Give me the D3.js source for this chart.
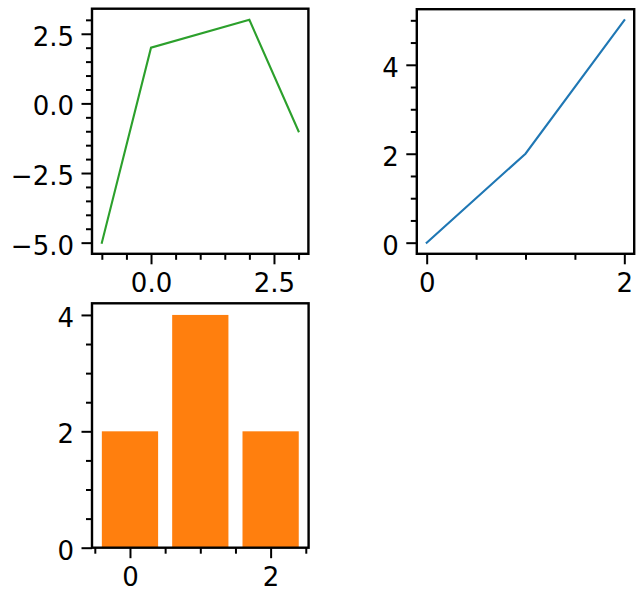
<!DOCTYPE html>
<html>
<head>
<meta charset="utf-8">
<script src="https://cdn.jsdelivr.net/npm/d3@7"></script>
<style>
  html, body { margin: 0; padding: 0; background: #fff; }
  svg { display: block; }
  text { font-family: "DejaVu Sans", sans-serif; }
</style>
</head>
<body>
<svg id="chart" width="644" height="601"></svg>
<script>
// ---- data ----
const greenX = [-1, 0, 2, 3];
const greenY = [-5, 2, 3, -1];
const blueX = [0, 1, 2];
const blueY = [0, 2, 5];
const barCats = [0, 1, 2];
const barVals = [2, 4, 2];

// tick values
const ax1XMajor = [0, 2.5];
const ax1XMinor = [-1, -0.5, 0.5, 1, 1.5, 2, 3];
const ax1YMajor = [-5, -2.5, 0, 2.5];
const ax1YMinor = [-4.5, -4, -3.5, -3, -2, -1.5, -1, -0.5, 0.5, 1, 1.5, 2, 3];
const ax2XMajor = [0, 2];
const ax2XMinor = [0.5, 1, 1.5];
const ax2YMajor = [0, 2, 4];
const ax2YMinor = [0.5, 1, 1.5, 2.5, 3, 3.5, 4.5, 5];
const ax3XMajor = [0, 2];
const ax3XMinor = [-0.5, 0.5, 1, 1.5, 2.5];
const ax3YMajor = [0, 2, 4];
const ax3YMinor = [0.5, 1, 1.5, 2.5, 3, 3.5];

const svg = d3.select("#chart");
const FONT = 26, MAJ = 10.5, MIN = 6, TW = 2, SPW = 2.4;

function panel(box, xd, yd, xt, yt, fmtX, fmtY) {
  const x = d3.scaleLinear().domain(xd).range([box.l, box.r]);
  const y = d3.scaleLinear().domain(yd).range([box.b, box.t]);
  const g = svg.append("g");
  const gxm = g.append("g").attr("transform", `translate(0,${box.b})`)
    .call(d3.axisBottom(x).tickValues(xt.minor).tickSize(MIN).tickFormat(""));
  const gx = g.append("g").attr("transform", `translate(0,${box.b})`)
    .call(d3.axisBottom(x).tickValues(xt.major).tickSize(MAJ).tickFormat(fmtX));
  const gym = g.append("g").attr("transform", `translate(${box.l},0)`)
    .call(d3.axisLeft(y).tickValues(yt.minor).tickSize(MIN).tickFormat(""));
  const gy = g.append("g").attr("transform", `translate(${box.l},0)`)
    .call(d3.axisLeft(y).tickValues(yt.major).tickSize(MAJ).tickFormat(fmtY));
  [gxm, gx, gym, gy].forEach(a => {
    a.attr("font-size", FONT).attr("font-family", "DejaVu Sans");
    a.select(".domain").remove();
    a.selectAll(".tick line").attr("stroke", "#000").attr("stroke-width", TW);
  });
  gx.selectAll(".tick text").attr("y", 38).attr("dy", null)
    .attr("font-size", FONT).attr("fill", "#000");
  gy.selectAll(".tick text").attr("x", -18).attr("dy", 11.4)
    .attr("font-size", FONT).attr("fill", "#000");
  return { x, y, g };
}

function frame(p, box) {
  p.g.append("rect").attr("x", box.l).attr("y", box.t)
    .attr("width", box.r - box.l).attr("height", box.b - box.t)
    .attr("fill", "none").attr("stroke", "#000").attr("stroke-width", SPW);
}

const fmt1 = d3.format(".1f");
const fmt0 = d3.format("d");

// Panel 1: green line
const b1 = { l: 92, r: 308.4, t: 8.7, b: 253.8 };
const p1 = panel(b1, [-1.2, 3.2], [-5.4, 3.4],
  { major: ax1XMajor, minor: ax1XMinor }, { major: ax1YMajor, minor: ax1YMinor }, fmt1, fmt1);
p1.g.append("path")
  .datum(greenX.map((v, i) => [v, greenY[i]]))
  .attr("fill", "none").attr("stroke", "#2ca02c").attr("stroke-width", 2.1)
  .attr("stroke-linecap", "square")
  .attr("d", d3.line().x(d => p1.x(d[0])).y(d => p1.y(d[1])));
frame(p1, b1);

// Panel 2: blue line
const b2 = { l: 416.8, r: 634.2, t: 9.2, b: 253.8 };
const p2 = panel(b2, [-0.1, 2.1], [-0.25, 5.25],
  { major: ax2XMajor, minor: ax2XMinor }, { major: ax2YMajor, minor: ax2YMinor }, fmt0, fmt0);
p2.g.append("path")
  .datum(blueX.map((v, i) => [v, blueY[i]]))
  .attr("fill", "none").attr("stroke", "#1f77b4").attr("stroke-width", 2.1)
  .attr("stroke-linecap", "square")
  .attr("d", d3.line().x(d => p2.x(d[0])).y(d => p2.y(d[1])));
frame(p2, b2);

// Panel 3: orange bars
const b3 = { l: 92, r: 308.6, t: 303.3, b: 547.7 };
const p3 = panel(b3, [-0.54, 2.54], [0, 4.2],
  { major: ax3XMajor, minor: ax3XMinor }, { major: ax3YMajor, minor: ax3YMinor }, fmt0, fmt0);
p3.g.insert("g", ":first-child").selectAll("rect").data(barCats).join("rect")
  .attr("x", (d) => p3.x(d - 0.4))
  .attr("width", (d) => p3.x(d + 0.4) - p3.x(d - 0.4))
  .attr("y", (d, i) => p3.y(barVals[i]))
  .attr("height", (d, i) => p3.y(0) - p3.y(barVals[i]))
  .attr("fill", "#ff7f0e");
frame(p3, b3);
</script>
</body>
</html>
